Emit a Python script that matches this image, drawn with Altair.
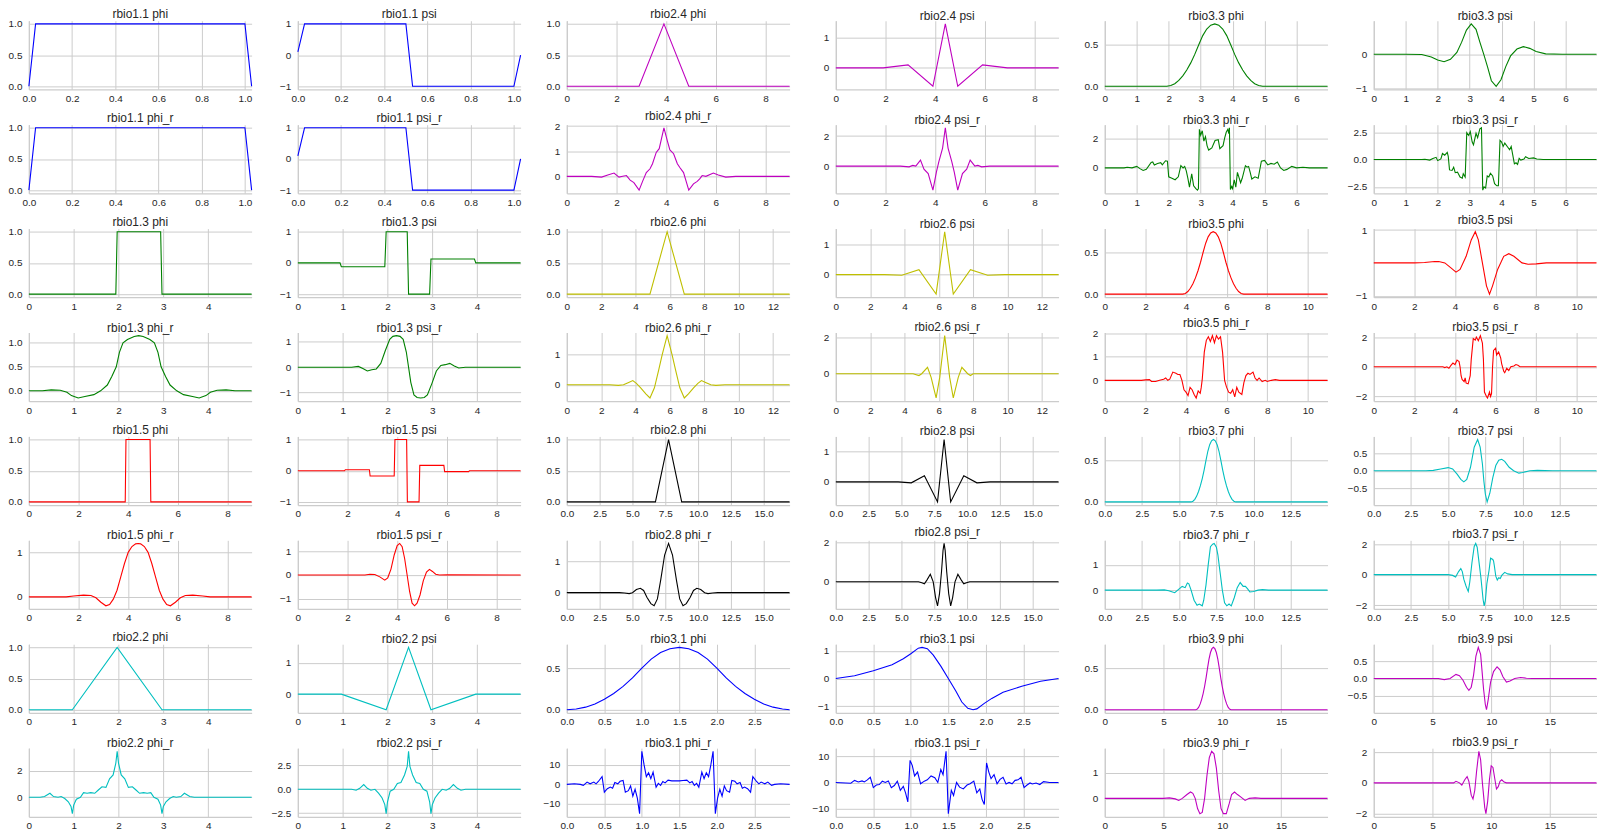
import altair as alt
import pandas as pd

# (x, y) pairs, one list per subplot
RBIO11_PHI = [(0, 0), (0.031, 1), (1.0, 1), (1.031, 0)]
RBIO11_PSI = [(0, 0.1), (0.031, 1), (0.5, 1), (0.531, -1), (1.0, -1), (1.031, 0)]
RBIO11_PHI_R = [(0, 0), (0.031, 1), (1.0, 1), (1.031, 0)]
RBIO11_PSI_R = [(0, 0.1), (0.031, 1), (0.5, 1), (0.531, -1), (1.0, -1), (1.031, 0)]

RBIO13_PHI = [(0, 0), (1.94, 0), (1.97, 1), (2.94, 1), (2.97, 0), (4.97, 0)]
RBIO13_PSI = [(0, 0), (0.94, 0), (0.97, -0.125), (1.94, -0.125), (1.97, 1), (2.44, 1), (2.47, -1),
              (2.94, -1), (2.97, 0.125), (3.94, 0.125), (3.97, 0), (4.97, 0)]
RBIO13_PHI_R = [(0, 0), (0.3, 0.0), (0.5, 0.02), (0.7, 0.01), (0.85, -0.03), (0.95, -0.1), (1.1, -0.15),
                (1.25, -0.12), (1.45, -0.08), (1.6, 0.0), (1.75, 0.12), (1.85, 0.3), (1.95, 0.5),
                (2.02, 0.8), (2.1, 1.0), (2.2, 1.07), (2.35, 1.13), (2.45, 1.15), (2.55, 1.13),
                (2.7, 1.07), (2.8, 1.0), (2.88, 0.8), (2.95, 0.5), (3.05, 0.3), (3.15, 0.12), (3.3, 0.0),
                (3.45, -0.08), (3.65, -0.12), (3.8, -0.15), (3.95, -0.1), (4.05, -0.03), (4.2, 0.01),
                (4.4, 0.02), (4.6, 0.0), (4.97, 0)]
RBIO13_PSI_R = [(0, 0), (1.2, 0), (1.35, 0.03), (1.45, -0.05), (1.55, -0.15), (1.65, -0.1), (1.75, -0.07),
                (1.85, 0.15), (1.95, 0.65), (2.05, 1.1), (2.12, 1.22), (2.2, 1.25), (2.28, 1.22),
                (2.35, 1.1), (2.42, 0.6), (2.47, 0.0), (2.52, -0.6), (2.59, -1.1), (2.66, -1.2),
                (2.74, -1.22), (2.82, -1.2), (2.89, -1.1), (2.99, -0.65), (3.09, -0.15), (3.19, 0.07),
                (3.29, 0.1), (3.39, 0.15), (3.49, 0.05), (3.59, -0.03), (3.74, 0), (4.97, 0)]

RBIO15_PHI = [(0, 0), (3.88, 0), (3.91, 1), (4.88, 1), (4.91, 0), (8.97, 0)]
RBIO15_PSI = [(0, 0), (1.88, 0), (1.91, 0.03), (2.88, 0.03), (2.91, -0.17), (3.88, -0.17), (3.91, 1),
              (4.38, 1), (4.41, -1), (4.88, -1), (4.91, 0.17), (5.88, 0.17), (5.91, -0.03),
              (6.88, -0.03), (6.91, 0), (8.97, 0)]
RBIO15_PHI_R = [(0, 0), (1.5, 0), (1.8, 0.02), (2.2, 0.04), (2.5, 0.03), (2.7, -0.02), (2.9, -0.12),
                (3.1, -0.2), (3.25, -0.17), (3.4, -0.05), (3.55, 0.15), (3.7, 0.45), (3.85, 0.75),
                (4.0, 1.0), (4.15, 1.13), (4.3, 1.19), (4.4, 1.2), (4.5, 1.19), (4.65, 1.13), (4.8, 1.0),
                (4.95, 0.75), (5.1, 0.45), (5.25, 0.15), (5.4, -0.05), (5.55, -0.17), (5.7, -0.2),
                (5.9, -0.12), (6.1, -0.02), (6.3, 0.03), (6.6, 0.04), (7.0, 0.02), (7.3, 0), (8.97, 0)]
RBIO15_PSI_R = [(0, 0), (2.7, 0), (2.9, 0.03), (3.1, 0.02), (3.3, -0.08), (3.5, -0.22), (3.62, -0.12),
                (3.75, 0.25), (3.88, 0.85), (4.0, 1.25), (4.1, 1.34), (4.2, 1.2), (4.3, 0.7), (4.4, 0.0),
                (4.5, -0.7), (4.6, -1.2), (4.7, -1.31), (4.8, -1.2), (4.92, -0.85), (5.05, -0.25),
                (5.18, 0.12), (5.3, 0.24), (5.42, 0.15), (5.55, 0.03), (5.7, 0), (6.0, 0.01), (8.97, 0)]

RBIO22_PHI = [(0, 0), (0.97, 0), (1.97, 1), (2.97, 0), (4.97, 0)]
RBIO22_PSI = [(0, 0), (0.97, 0), (1.97, -0.5), (2.47, 1.5), (2.97, -0.5), (3.97, 0), (4.97, 0)]
RBIO22_PHI_R = [(0, 0), (0.25, 0.0), (0.35, 0.05), (0.47, 0.3), (0.55, 0.05), (0.65, 0.0), (0.72, 0.05),
                (0.8, -0.1), (0.88, -0.35), (0.94, -0.7), (0.97, -1.25), (1.0, -0.6), (1.06, -0.15),
                (1.15, 0.0), (1.22, 0.35), (1.3, 0.3), (1.38, 0.35), (1.47, 0.3), (1.55, 0.55),
                (1.63, 0.8), (1.72, 0.75), (1.8, 1.4), (1.88, 1.7), (1.94, 2.6), (1.97, 3.5), (2.0, 2.6),
                (2.06, 1.7), (2.14, 1.4), (2.22, 0.75), (2.31, 0.8), (2.39, 0.55), (2.47, 0.3),
                (2.56, 0.35), (2.64, 0.3), (2.72, 0.35), (2.79, 0.0), (2.88, -0.15), (2.94, -0.6),
                (2.97, -1.25), (3.0, -0.7), (3.06, -0.35), (3.14, -0.1), (3.22, 0.05), (3.29, 0.0),
                (3.39, 0.05), (3.47, 0.3), (3.59, 0.05), (3.69, 0.0), (4.97, 0)]
RBIO22_PSI_R = [(0, 0), (1.2, 0), (1.3, -0.1), (1.38, 0.1), (1.47, 0.5), (1.55, 0.1), (1.63, -0.1),
                (1.72, 0.0), (1.8, -0.4), (1.88, -0.9), (1.94, -1.6), (1.97, -2.54), (2.0, -1.3),
                (2.06, -0.2), (2.14, 0.0), (2.22, 0.6), (2.3, 0.7), (2.38, 1.5), (2.44, 2.4), (2.47, 3.97),
                (2.5, 2.4), (2.56, 1.5), (2.64, 0.7), (2.72, 0.6), (2.8, 0.0), (2.88, -0.2), (2.94, -1.3),
                (2.97, -2.54), (3.0, -1.6), (3.06, -0.9), (3.14, -0.4), (3.22, 0.0), (3.31, -0.1),
                (3.39, 0.1), (3.47, 0.5), (3.56, 0.1), (3.64, -0.1), (3.74, 0), (4.97, 0)]

RBIO24_PHI = [(0, 0), (2.91, 0), (3.91, 1), (4.91, 0), (8.97, 0)]
RBIO24_PSI = [(0, 0), (1.91, 0), (2.91, 0.1), (3.91, -0.6), (4.41, 1.44), (4.91, -0.6), (5.91, 0.1),
              (6.91, 0), (8.97, 0)]
RBIO24_PHI_R = [(0, 0), (1.0, 0), (1.4, -0.03), (1.65, 0.05), (1.9, 0.13), (2.1, -0.03), (2.25, 0.0),
                (2.4, 0.03), (2.55, -0.15), (2.7, -0.25), (2.91, -0.55), (3.05, -0.2), (3.2, 0.15),
                (3.35, 0.3), (3.45, 0.5), (3.6, 0.95), (3.72, 1.1), (3.91, 1.93), (4.05, 1.4),
                (4.15, 1.05), (4.3, 0.9), (4.45, 0.5), (4.55, 0.35), (4.7, 0.15), (4.91, -0.55),
                (5.1, -0.3), (5.25, -0.2), (5.35, -0.1), (5.45, 0.03), (5.6, 0.0), (5.9, 0.13),
                (6.1, 0.05), (6.4, -0.03), (6.8, 0), (8.97, 0)]
RBIO24_PSI_R = [(0, 0), (2.6, 0), (2.95, -0.05), (3.1, 0.05), (3.22, 0.0), (3.41, 0.4), (3.55, -0.2),
                (3.72, -0.5), (3.91, -1.6), (4.05, -0.4), (4.15, 0.3), (4.3, 1.2), (4.41, 2.55),
                (4.52, 1.2), (4.67, 0.3), (4.77, -0.4), (4.91, -1.6), (5.1, -0.5), (5.27, -0.2),
                (5.41, 0.4), (5.6, 0.0), (5.72, 0.05), (5.87, -0.05), (6.2, 0), (8.97, 0)]

RBIO26_PHI = [(0, 0), (4.84, 0), (5.84, 1), (6.84, 0), (12.97, 0)]
RBIO26_PSI = [(0, 0), (2.84, 0), (3.84, -0.02), (4.84, 0.16), (5.84, -0.64), (6.34, 1.41), (6.84, -0.64),
              (7.84, 0.16), (8.84, -0.02), (9.84, 0), (12.97, 0)]
RBIO26_PHI_R = [(0, 0), (2.5, 0), (3.0, -0.02), (3.3, 0.0), (3.6, 0.08), (3.84, 0.14), (4.05, 0.05),
                (4.3, -0.1), (4.6, -0.3), (4.84, -0.44), (5.1, -0.1), (5.35, 0.5), (5.55, 1.0),
                (5.84, 1.64), (6.13, 1.0), (6.33, 0.5), (6.58, -0.1), (6.84, -0.44), (7.08, -0.3),
                (7.38, -0.1), (7.63, 0.05), (7.84, 0.14), (8.08, 0.08), (8.38, 0.0), (8.68, -0.02),
                (9.2, 0), (12.97, 0)]
RBIO26_PSI_R = [(0, 0), (4.5, 0), (4.84, -0.1), (5.0, 0.0), (5.34, 0.35), (5.55, -0.2), (5.84, -1.33),
                (6.05, -0.2), (6.2, 1.0), (6.34, 2.09), (6.48, 1.0), (6.63, -0.2), (6.84, -1.33),
                (7.13, -0.2), (7.34, 0.35), (7.68, 0.0), (7.84, -0.1), (8.0, 0), (12.97, 0)]

RBIO28_PHI = [(0, 0), (6.75, 0), (7.75, 1), (8.75, 0), (16.97, 0)]
RBIO28_PSI = [(0, 0), (4.75, 0), (5.75, -0.03), (6.75, 0.2), (7.75, -0.66), (8.25, 1.4), (8.75, -0.66),
              (9.75, 0.2), (10.75, -0.03), (11.75, 0), (16.97, 0)]
RBIO28_PHI_R = [(0, 0), (4.0, 0), (4.4, -0.01), (4.75, -0.03), (5.0, 0.0), (5.3, 0.1), (5.6, 0.14),
                (5.85, 0.07), (6.1, -0.15), (6.4, -0.35), (6.65, -0.42), (6.9, -0.2), (7.15, 0.4),
                (7.45, 1.2), (7.75, 1.57), (8.05, 1.2), (8.35, 0.4), (8.6, -0.2), (8.85, -0.42),
                (9.1, -0.35), (9.4, -0.15), (9.65, 0.07), (9.9, 0.14), (10.2, 0.1), (10.5, 0.0),
                (10.75, -0.03), (11.1, -0.01), (11.5, 0), (16.97, 0)]
RBIO28_PSI_R = [(0, 0), (6.3, 0), (6.55, -0.05), (6.75, -0.1), (6.95, 0.1), (7.2, 0.38), (7.42, 0.0),
                (7.6, -0.8), (7.75, -1.22), (7.9, -0.6), (8.05, 0.5), (8.17, 1.6), (8.25, 1.95),
                (8.33, 1.6), (8.45, 0.5), (8.6, -0.6), (8.75, -1.22), (8.9, -0.8), (9.08, 0.0),
                (9.3, 0.38), (9.55, 0.1), (9.75, -0.1), (9.95, -0.05), (10.2, 0), (16.97, 0)]

RBIO31_PHI = [(0, 0), (0.125, 0.008), (0.25, 0.031), (0.375, 0.07), (0.5, 0.125), (0.625, 0.195),
              (0.75, 0.281), (0.875, 0.383), (1.0, 0.5), (1.125, 0.609), (1.25, 0.688), (1.375, 0.734),
              (1.5, 0.75), (1.625, 0.734), (1.75, 0.688), (1.875, 0.609), (2.0, 0.5), (2.125, 0.383),
              (2.25, 0.281), (2.375, 0.195), (2.5, 0.125), (2.625, 0.07), (2.75, 0.031),
              (2.875, 0.008), (2.97, 0.0)]
RBIO31_PSI = [(0, 0), (0.25, 0.1), (0.5, 0.28), (0.75, 0.5), (0.9, 0.72), (1.0, 0.9), (1.1, 1.1),
              (1.15, 1.13), (1.22, 1.08), (1.3, 0.85), (1.4, 0.45), (1.5, 0.0), (1.6, -0.45),
              (1.68, -0.85), (1.76, -1.08), (1.83, -1.13), (1.88, -1.1), (1.98, -0.9), (2.08, -0.72),
              (2.23, -0.5), (2.48, -0.28), (2.73, -0.1), (2.97, 0)]
RBIO31_PHI_R = [(0, 0), (0.1, 0.3), (0.18, 0.0), (0.22, -0.5), (0.27, 1.2), (0.31, 0.3), (0.36, 1.2),
                (0.39, 0.3), (0.42, 1.5), (0.47, 4.0), (0.5, -4.0), (0.54, -2.2), (0.58, -1.4),
                (0.61, -2.0), (0.64, 1.0), (0.68, 0.3), (0.71, 1.6), (0.75, 2.0), (0.78, -4.0),
                (0.82, -3.2), (0.85, -0.8), (0.88, -6.0), (0.91, -2.5), (0.94, -7.0), (0.97, -15.0),
                (1.0, 17.0), (1.03, 10.0), (1.06, 4.0), (1.09, 6.0), (1.12, 3.0), (1.15, 6.3),
                (1.19, -1.5), (1.22, 0.5), (1.25, -0.5), (1.28, 1.5), (1.31, 0.8), (1.35, 2.2),
                (1.4, 1.8), (1.45, 1.8), (1.5, 1.8), (1.55, 2.0), (1.6, 2.2), (1.64, 0.8), (1.67, 1.5),
                (1.7, -0.5), (1.73, 0.5), (1.76, -1.5), (1.8, 6.3), (1.83, 3.0), (1.86, 6.0),
                (1.89, 4.0), (1.92, 10.0), (1.95, 17.0), (1.98, -15.0), (2.01, -7.0), (2.04, -2.5),
                (2.07, -6.0), (2.1, -0.8), (2.13, -3.2), (2.17, -4.0), (2.2, 2.0), (2.24, 1.6),
                (2.27, 0.3), (2.31, 1.0), (2.34, -2.0), (2.37, -1.4), (2.41, -2.2), (2.45, -4.0),
                (2.48, 4.0), (2.53, 1.5), (2.56, 0.3), (2.59, 1.2), (2.64, 0.3), (2.68, 1.2),
                (2.73, -0.5), (2.77, 0.0), (2.85, 0.3), (2.97, 0)]
RBIO31_PSI_R = [(0, 0), (0.2, -0.3), (0.25, 0.8), (0.3, 0.2), (0.35, 0.6), (0.38, 0.2), (0.42, 1.0),
                (0.46, 2.0), (0.5, -2.0), (0.54, -1.0), (0.58, -0.8), (0.62, 0.5), (0.66, 0.0),
                (0.7, 0.6), (0.74, -2.0), (0.78, -1.2), (0.82, 0.5), (0.86, -3.0), (0.9, -1.5),
                (0.93, -4.0), (0.96, -7.5), (0.99, 8.5), (1.02, 6.5), (1.05, 2.5), (1.09, 4.0),
                (1.13, -0.5), (1.18, 0.5), (1.22, 1.0), (1.27, 2.5), (1.32, 1.8), (1.36, 0.0),
                (1.4, 5.0), (1.43, 3.0), (1.47, 12.0), (1.5, -12.0), (1.54, -3.0), (1.57, -5.0),
                (1.61, 0.0), (1.65, -1.8), (1.7, -2.5), (1.75, -1.0), (1.79, -0.5), (1.84, 0.5),
                (1.88, -4.0), (1.92, -2.5), (1.95, -6.5), (1.98, -8.5), (2.01, 7.5), (2.04, 4.0),
                (2.07, 1.5), (2.11, 3.0), (2.15, -0.5), (2.19, 1.2), (2.23, 2.0), (2.27, -0.6),
                (2.31, 0.0), (2.35, -0.5), (2.39, 0.8), (2.43, 1.0), (2.47, 2.0), (2.51, -2.0),
                (2.55, -1.0), (2.59, -0.2), (2.62, -0.6), (2.67, -0.2), (2.72, -0.8), (2.77, 0.3),
                (2.85, 0.0), (2.97, 0)]

RBIO33_PHI = [(0, 0), (1.94, 0), (2.065, 0.008), (2.19, 0.031), (2.315, 0.07), (2.44, 0.125),
              (2.565, 0.195), (2.69, 0.281), (2.815, 0.383), (2.94, 0.5), (3.065, 0.609), (3.19, 0.688),
              (3.315, 0.734), (3.44, 0.75), (3.565, 0.734), (3.69, 0.688), (3.815, 0.609), (3.94, 0.5),
              (4.065, 0.383), (4.19, 0.281), (4.315, 0.195), (4.44, 0.125), (4.565, 0.07),
              (4.69, 0.031), (4.815, 0.008), (4.94, 0), (6.97, 0)]
RBIO33_PSI = [(0, 0), (1.0, 0), (1.5, -0.01), (1.8, -0.08), (2.0, -0.17), (2.2, -0.22), (2.4, -0.15),
              (2.6, 0.05), (2.75, 0.35), (2.9, 0.7), (3.05, 0.88), (3.2, 0.72), (3.32, 0.35), (3.44, 0.0),
              (3.56, -0.37), (3.68, -0.77), (3.83, -0.93), (3.98, -0.74), (4.13, -0.36), (4.28, -0.05),
              (4.48, 0.15), (4.68, 0.22), (4.88, 0.17), (5.08, 0.08), (5.38, 0.01), (5.9, 0), (6.97, 0)]
RBIO33_PHI_R = [(0, 0), (0.6, 0.0), (0.7, 0.04), (0.85, 0.0), (1.0, 0.1), (1.1, -0.05), (1.2, -0.17),
                (1.3, -0.1), (1.45, 0.37), (1.5, 0.4), (1.55, 0.2), (1.65, 0.3), (1.75, 0.35), (1.8, 0.2),
                (1.9, 0.48), (1.96, 0.45), (2.0, -0.6), (2.1, -0.7), (2.2, -0.8), (2.3, -0.6),
                (2.38, 0.15), (2.45, 0.0), (2.5, 0.1), (2.55, -0.2), (2.6, -0.7), (2.65, -1.3),
                (2.72, -0.4), (2.78, -1.2), (2.85, -1.4), (2.9, -1.5), (2.93, -1.4), (2.96, 2.6),
                (3.0, 2.2), (3.05, 2.5), (3.1, 1.8), (3.15, 2.1), (3.2, 1.5), (3.25, 1.2), (3.35, 1.35),
                (3.45, 1.85), (3.55, 1.9), (3.6, 1.3), (3.7, 1.5), (3.75, 2.0), (3.8, 2.4), (3.85, 2.6),
                (3.88, 2.3), (3.9, 2.7), (3.93, -1.45), (3.97, -1.25), (4.0, -1.4), (4.05, -0.8),
                (4.1, -1.3), (4.15, -0.3), (4.25, -1.0), (4.3, -0.7), (4.4, 0.15), (4.45, 0.05),
                (4.5, 0.1), (4.55, -0.3), (4.6, -0.75), (4.7, -0.6), (4.8, -0.7), (4.9, 0.45), (5.0, 0.5),
                (5.1, 0.2), (5.2, 0.3), (5.3, 0.25), (5.4, 0.4), (5.5, 0.0), (5.6, -0.17), (5.7, -0.1),
                (5.85, 0.1), (6.0, 0.0), (6.2, 0.04), (6.4, 0.0), (6.97, 0)]
RBIO33_PSI_R = [(0, 0), (1.5, 0), (1.6, 0.02), (1.75, -0.05), (1.85, 0.1), (1.95, 0.2), (2.0, -0.1),
                (2.1, 0.05), (2.15, 0.55), (2.22, 0.4), (2.3, 0.65), (2.33, 0.3), (2.37, -0.95),
                (2.45, -1.0), (2.5, -0.7), (2.55, -1.2), (2.62, -1.15), (2.7, -1.6), (2.77, -1.7),
                (2.8, -1.3), (2.86, -1.6), (2.91, 2.45), (2.97, 2.2), (3.02, 2.55), (3.08, 1.6),
                (3.12, 1.35), (3.2, 2.4), (3.25, 2.0), (3.32, 2.8), (3.37, 2.9), (3.41, -2.8),
                (3.45, -2.5), (3.5, -2.6), (3.55, -1.5), (3.6, -1.6), (3.65, -1.25), (3.72, -1.5),
                (3.78, -2.2), (3.85, -2.4), (3.9, -2.4), (3.95, 1.75), (4.0, 1.6), (4.05, 1.2),
                (4.1, 1.5), (4.2, 1.1), (4.25, 0.9), (4.3, 1.2), (4.35, 0.4), (4.4, -0.4), (4.45, -0.3),
                (4.5, -0.45), (4.55, 0.1), (4.6, -0.05), (4.7, 0.05), (4.75, 0.25), (4.85, 0.1),
                (5.0, 0.15), (5.1, 0.05), (5.3, 0.0), (6.97, 0)]

RBIO35_PHI = [(0, 0), (3.84, 0), (3.965, 0.008), (4.09, 0.031), (4.215, 0.07), (4.34, 0.125),
              (4.465, 0.195), (4.59, 0.281), (4.715, 0.383), (4.84, 0.5), (4.965, 0.609), (5.09, 0.688),
              (5.215, 0.734), (5.34, 0.75), (5.465, 0.734), (5.59, 0.688), (5.715, 0.609), (5.84, 0.5),
              (5.965, 0.383), (6.09, 0.281), (6.215, 0.195), (6.34, 0.125), (6.465, 0.07),
              (6.59, 0.031), (6.715, 0.008), (6.84, 0), (10.97, 0)]
RBIO35_PSI = [(0, 0), (2.0, 0), (2.5, 0.01), (3.0, 0.04), (3.2, 0.04), (3.5, 0.0), (3.8, -0.15),
              (4.05, -0.28), (4.25, -0.2), (4.55, 0.2), (4.8, 0.7), (5.0, 0.95), (5.15, 0.7), (5.35, 0.0),
              (5.55, -0.7), (5.7, -0.95), (5.85, -0.7), (6.1, -0.2), (6.4, 0.2), (6.65, 0.28),
              (6.9, 0.2), (7.3, 0.0), (7.6, -0.04), (8.0, -0.03), (8.5, 0), (10.97, 0)]
RBIO35_PHI_R = [(0, 0), (1.8, 0), (2.0, 0.02), (2.2, 0.03), (2.3, -0.05), (2.5, -0.05), (2.7, 0.0),
                (2.9, 0.05), (3.0, 0.1), (3.1, 0.0), (3.2, 0.05), (3.35, 0.35), (3.5, 0.3), (3.6, 0.25),
                (3.7, 0.25), (3.8, 0.0), (3.9, -0.4), (4.0, -0.5), (4.1, -0.65), (4.2, -0.3),
                (4.3, -0.4), (4.4, -0.6), (4.5, -0.75), (4.6, -0.45), (4.7, -0.55), (4.75, -0.3),
                (4.8, 0.05), (4.9, 1.2), (5.0, 1.7), (5.1, 1.85), (5.2, 1.65), (5.3, 1.9), (5.4, 1.6),
                (5.5, 1.9), (5.6, 1.75), (5.7, 1.85), (5.8, 1.2), (5.9, 0.0), (6.0, -0.3), (6.1, -0.5),
                (6.2, -0.55), (6.3, -0.4), (6.4, -0.7), (6.5, -0.3), (6.6, -0.5), (6.75, -0.6),
                (6.85, -0.1), (6.95, 0.2), (7.05, 0.3), (7.15, 0.25), (7.3, 0.35), (7.4, 0.1),
                (7.5, 0.0), (7.6, 0.1), (7.75, -0.05), (7.9, 0.0), (8.0, -0.05), (8.2, 0.0),
                (8.4, 0.03), (8.6, 0.0), (9.0, 0), (10.97, 0)]
RBIO35_PSI_R = [(0, 0), (3.4, 0), (3.5, -0.05), (3.6, 0.0), (3.7, -0.1), (3.8, 0.1), (3.9, 0.25),
                (4.0, 0.15), (4.1, 0.45), (4.2, 0.35), (4.25, 0.0), (4.3, -0.6), (4.35, -0.85),
                (4.45, -1.0), (4.5, -0.75), (4.55, -1.1), (4.65, -1.15), (4.75, -0.6), (4.8, 0.5),
                (4.9, 1.9), (5.0, 1.8), (5.05, 2.0), (5.15, 1.75), (5.25, 2.1), (5.35, 1.6), (5.4, 0.5),
                (5.45, -1.7), (5.55, -2.0), (5.6, -2.1), (5.7, -1.7), (5.75, -2.0), (5.8, -1.8),
                (5.85, 0.0), (5.9, 1.1), (6.0, 1.25), (6.05, 0.8), (6.15, 1.0), (6.25, 0.6), (6.3, 0.2),
                (6.4, -0.3), (6.45, -0.4), (6.55, -0.1), (6.65, -0.25), (6.75, 0.0), (6.9, 0.05),
                (7.0, 0.15), (7.1, 0.1), (7.2, 0.0), (7.5, 0), (10.97, 0)]

RBIO37_PHI = [(0, 0), (5.8, 0), (5.925, 0.008), (6.05, 0.031), (6.175, 0.07), (6.3, 0.125),
              (6.425, 0.195), (6.55, 0.281), (6.675, 0.383), (6.8, 0.5), (6.925, 0.609), (7.05, 0.688),
              (7.175, 0.734), (7.3, 0.75), (7.425, 0.734), (7.55, 0.688), (7.675, 0.609), (7.8, 0.5),
              (7.925, 0.383), (8.05, 0.281), (8.175, 0.195), (8.3, 0.125), (8.425, 0.07),
              (8.55, 0.031), (8.675, 0.008), (8.8, 0), (14.97, 0)]
RBIO37_PSI = [(0, 0), (3.5, 0), (4.0, 0.01), (4.5, 0.05), (5.0, 0.09), (5.3, 0.05), (5.6, -0.1),
              (5.85, -0.25), (6.05, -0.32), (6.25, -0.25), (6.5, 0.1), (6.75, 0.68), (6.98, 0.9),
              (7.15, 0.68), (7.3, 0.2), (7.4, -0.3), (7.5, -0.68), (7.62, -0.9), (7.8, -0.65),
              (8.0, -0.2), (8.2, 0.15), (8.4, 0.3), (8.6, 0.33), (8.8, 0.27), (9.1, 0.1), (9.4, 0.0),
              (9.75, -0.07), (10.0, -0.05), (10.5, 0.0), (11.0, 0.01), (12.0, 0), (14.97, 0)]
RBIO37_PHI_R = [(0, 0), (3.5, 0), (4.0, 0.01), (4.3, -0.02), (4.5, -0.06), (4.7, -0.1), (5.0, 0.05),
                (5.2, 0.15), (5.4, 0.1), (5.55, 0.28), (5.65, 0.25), (5.8, 0.0), (6.0, -0.4),
                (6.2, -0.6), (6.35, -0.55), (6.55, -0.62), (6.65, -0.4), (6.8, 0.2), (6.95, 1.0),
                (7.1, 1.72), (7.25, 1.82), (7.35, 1.85), (7.5, 1.7), (7.6, 1.4), (7.75, 0.7), (7.9, 0.0),
                (8.05, -0.5), (8.2, -0.62), (8.35, -0.55), (8.5, -0.62), (8.7, -0.3), (8.9, 0.1),
                (9.1, 0.3), (9.3, 0.15), (9.45, 0.15), (9.6, 0.05), (9.75, -0.07), (10.0, -0.05),
                (10.3, 0.0), (10.6, 0.02), (11.0, 0), (14.97, 0)]
RBIO37_PSI_R = [(0, 0), (4.8, 0), (5.0, 0.0), (5.3, -0.05), (5.5, -0.15), (5.7, 0.2), (5.85, 0.4),
                (5.95, 0.2), (6.05, -0.3), (6.2, -0.75), (6.3, -1.0), (6.35, -1.1), (6.45, -0.5),
                (6.6, 0.8), (6.75, 1.85), (6.85, 2.05), (6.95, 1.8), (7.05, 1.0), (7.2, -0.2),
                (7.35, -1.65), (7.42, -2.05), (7.5, -1.7), (7.6, -0.6), (7.75, 0.3), (7.85, 1.08),
                (8.0, 1.0), (8.05, 0.9), (8.1, 0.6), (8.2, -0.1), (8.3, -0.35), (8.4, -0.2),
                (8.5, -0.25), (8.6, -0.05), (8.8, 0.15), (9.0, 0.05), (9.3, 0), (14.97, 0)]

RBIO39_PHI = [(0, 0), (7.75, 0), (7.875, 0.008), (8.0, 0.031), (8.125, 0.07), (8.25, 0.125),
              (8.375, 0.195), (8.5, 0.281), (8.625, 0.383), (8.75, 0.5), (8.875, 0.609), (9.0, 0.688),
              (9.125, 0.734), (9.25, 0.75), (9.375, 0.734), (9.5, 0.688), (9.625, 0.609), (9.75, 0.5),
              (9.875, 0.383), (10.0, 0.281), (10.125, 0.195), (10.25, 0.125), (10.375, 0.07),
              (10.5, 0.031), (10.625, 0.008), (10.75, 0), (18.97, 0)]
RBIO39_PSI = [(0, 0), (5.0, 0), (5.5, 0.0), (6.0, -0.03), (6.5, 0.0), (7.0, 0.12), (7.3, 0.08),
              (7.6, -0.05), (7.9, -0.25), (8.1, -0.34), (8.3, -0.25), (8.5, 0.1), (8.7, 0.65),
              (8.9, 0.9), (9.1, 0.7), (9.2, 0.3), (9.35, -0.3), (9.5, -0.75), (9.6, -0.9), (9.75, -0.6),
              (9.95, -0.1), (10.2, 0.2), (10.5, 0.34), (10.75, 0.25), (11.0, 0.05), (11.3, -0.1),
              (11.6, -0.07), (12.0, 0.0), (12.5, 0.03), (13.0, 0.01), (13.5, 0), (18.97, 0)]
RBIO39_PHI_R = [(0, 0), (4.5, 0), (5.0, 0.0), (5.5, 0.02), (6.0, -0.02), (6.3, -0.08), (6.6, 0.0),
                (7.0, 0.15), (7.3, 0.25), (7.5, 0.2), (7.7, 0.0), (7.9, -0.4), (8.1, -0.6), (8.3, -0.55),
                (8.5, 0.0), (8.7, 0.9), (8.9, 1.6), (9.1, 1.85), (9.3, 1.75), (9.5, 1.2), (9.7, 0.3),
                (9.9, -0.4), (10.1, -0.6), (10.35, -0.6), (10.6, -0.2), (10.8, 0.15), (11.05, 0.25),
                (11.3, 0.15), (11.6, 0.05), (11.95, -0.08), (12.3, 0.0), (12.8, 0.02), (13.3, 0),
                (18.97, 0)]
RBIO39_PSI_R = [(0, 0), (6.5, 0), (6.8, 0.0), (7.0, 0.1), (7.3, 0.0), (7.5, -0.15), (7.75, 0.2),
                (7.95, 0.4), (8.1, 0.1), (8.3, -0.8), (8.45, -1.05), (8.6, -0.5), (8.75, 0.7),
                (8.95, 2.05), (9.1, 1.5), (9.25, 0.0), (9.45, -1.6), (9.55, -2.0), (9.7, -1.2),
                (9.85, 0.2), (10.0, 1.1), (10.15, 1.0), (10.3, 0.3), (10.45, -0.4), (10.6, -0.25),
                (10.75, 0.1), (10.9, 0.2), (11.1, 0.05), (11.3, 0), (18.97, 0)]

# wavelet families in the order they fill the grid (column pair by column pair)
FAMILIES = ["rbio1.1", "rbio1.3", "rbio1.5", "rbio2.2", "rbio2.4", "rbio2.6", "rbio2.8",
            "rbio3.1", "rbio3.3", "rbio3.5", "rbio3.7", "rbio3.9"]
COLORS = ["#0000ff", "#008000", "#ff0000", "#00bfbf", "#bf00bf", "#bfbf00", "#000000",
          "#0000ff", "#008000", "#ff0000", "#00bfbf", "#bf00bf"]
X_END = [1.031, 4.97, 8.97, 4.97, 8.97, 12.97, 16.97, 2.97, 6.97, 10.97, 14.97, 18.97]
X_TICKS = [
    [0, 0.2, 0.4, 0.6, 0.8, 1.0],
    [0, 1, 2, 3, 4],
    [0, 2, 4, 6, 8],
    [0, 1, 2, 3, 4],
    [0, 2, 4, 6, 8],
    [0, 2, 4, 6, 8, 10, 12],
    [0, 2.5, 5, 7.5, 10, 12.5, 15],
    [0, 0.5, 1, 1.5, 2, 2.5],
    [0, 1, 2, 3, 4, 5, 6],
    [0, 2, 4, 6, 8, 10],
    [0, 2.5, 5, 7.5, 10, 12.5],
    [0, 5, 10, 15],
]
CURVES = [
    (RBIO11_PHI, RBIO11_PSI, RBIO11_PHI_R, RBIO11_PSI_R),
    (RBIO13_PHI, RBIO13_PSI, RBIO13_PHI_R, RBIO13_PSI_R),
    (RBIO15_PHI, RBIO15_PSI, RBIO15_PHI_R, RBIO15_PSI_R),
    (RBIO22_PHI, RBIO22_PSI, RBIO22_PHI_R, RBIO22_PSI_R),
    (RBIO24_PHI, RBIO24_PSI, RBIO24_PHI_R, RBIO24_PSI_R),
    (RBIO26_PHI, RBIO26_PSI, RBIO26_PHI_R, RBIO26_PSI_R),
    (RBIO28_PHI, RBIO28_PSI, RBIO28_PHI_R, RBIO28_PSI_R),
    (RBIO31_PHI, RBIO31_PSI, RBIO31_PHI_R, RBIO31_PSI_R),
    (RBIO33_PHI, RBIO33_PSI, RBIO33_PHI_R, RBIO33_PSI_R),
    (RBIO35_PHI, RBIO35_PSI, RBIO35_PHI_R, RBIO35_PSI_R),
    (RBIO37_PHI, RBIO37_PSI, RBIO37_PHI_R, RBIO37_PSI_R),
    (RBIO39_PHI, RBIO39_PSI, RBIO39_PHI_R, RBIO39_PSI_R),
]
# y tick values per family, in order phi, psi, phi_r, psi_r
Y_TICKS = [
    ([0, 0.5, 1], [-1, 0, 1], [0, 0.5, 1], [-1, 0, 1]),
    ([0, 0.5, 1], [-1, 0, 1], [0, 0.5, 1], [-1, 0, 1]),
    ([0, 0.5, 1], [-1, 0, 1], [0, 1], [-1, 0, 1]),
    ([0, 0.5, 1], [0, 1], [0, 2], [-2.5, 0, 2.5]),
    ([0, 0.5, 1], [0, 1], [0, 1, 2], [0, 2]),
    ([0, 0.5, 1], [0, 1], [0, 1], [0, 2]),
    ([0, 0.5, 1], [0, 1], [0, 1], [0, 2]),
    ([0, 0.5], [-1, 0, 1], [-10, 0, 10], [-10, 0, 10]),
    ([0, 0.5], [-1, 0], [0, 2], [-2.5, 0, 2.5]),
    ([0, 0.5], [-1, 0, 1], [0, 1, 2], [-2, 0, 2]),
    ([0, 0.5], [-0.5, 0, 0.5], [0, 1], [-2, 0, 2]),
    ([0, 0.5], [-0.5, 0, 0.5], [0, 1], [-2, 0, 2]),
]
KINDS = ["phi", "psi", "phi_r", "psi_r"]

PANEL_W = 224
PANEL_H = 69


def _fmt(values):
    """Integer labels when every tick is whole, else one decimal (like matplotlib)."""
    return "d" if all(float(v).is_integer() for v in values) else ".1f"


def panel(title, points, color, x_end, x_ticks, y_ticks):
    df = pd.DataFrame(points, columns=["x", "y"])
    lo, hi = float(df["y"].min()), float(df["y"].max())
    pad = 0.05 * (hi - lo)
    return (
        alt.Chart(df)
        .mark_line(color=color, strokeWidth=1.1)
        .encode(
            x=alt.X("x:Q", scale=alt.Scale(domain=[0, x_end], nice=False, zero=False),
                    axis=alt.Axis(values=x_ticks, format=_fmt(x_ticks), title=None)),
            y=alt.Y("y:Q", scale=alt.Scale(domain=[lo - pad, hi + pad], nice=False, zero=False),
                    axis=alt.Axis(values=y_ticks, format=_fmt(y_ticks), title=None)),
        )
        .properties(width=PANEL_W, height=PANEL_H, title=title)
    )


panels = []
for block_row in range(4):
    for half in (0, 1):
        for block_col in range(3):
            f = block_col * 4 + block_row
            for k in (2 * half, 2 * half + 1):
                panels.append(panel(
                    f"{FAMILIES[f]} {KINDS[k]}", CURVES[f][k], COLORS[f],
                    X_END[f], X_TICKS[f], Y_TICKS[f][k],
                ))

chart = (
    alt.concat(*panels, columns=6, spacing={"row": 35.5, "column": 46.5}, bounds="flush")
    .properties(padding={"left": 0, "top": -2.5, "right": 0, "bottom": 0})
    .configure(font="Liberation Sans")
    .configure_view(stroke=None)
    .configure_axis(
        grid=True,
        gridColor="#cccccc",
        gridWidth=1,
        domainColor="#cccccc",
        domainWidth=1.25,
        ticks=False,
        tickSize=0,
        labelFontSize=10,
        labelColor="#262626",
        labelFlush=False,
        labelOverlap=False,
    )
    .configure_axisX(labelPadding=4)
    .configure_axisY(labelPadding=7)
    .configure_title(
        fontSize=12,
        fontWeight="normal",
        color="#262626",
        offset=-2,
        anchor="middle",
        baseline="alphabetic",
    )
)

chart.save("out.html", embed_options={"renderer": "svg", "actions": False})
